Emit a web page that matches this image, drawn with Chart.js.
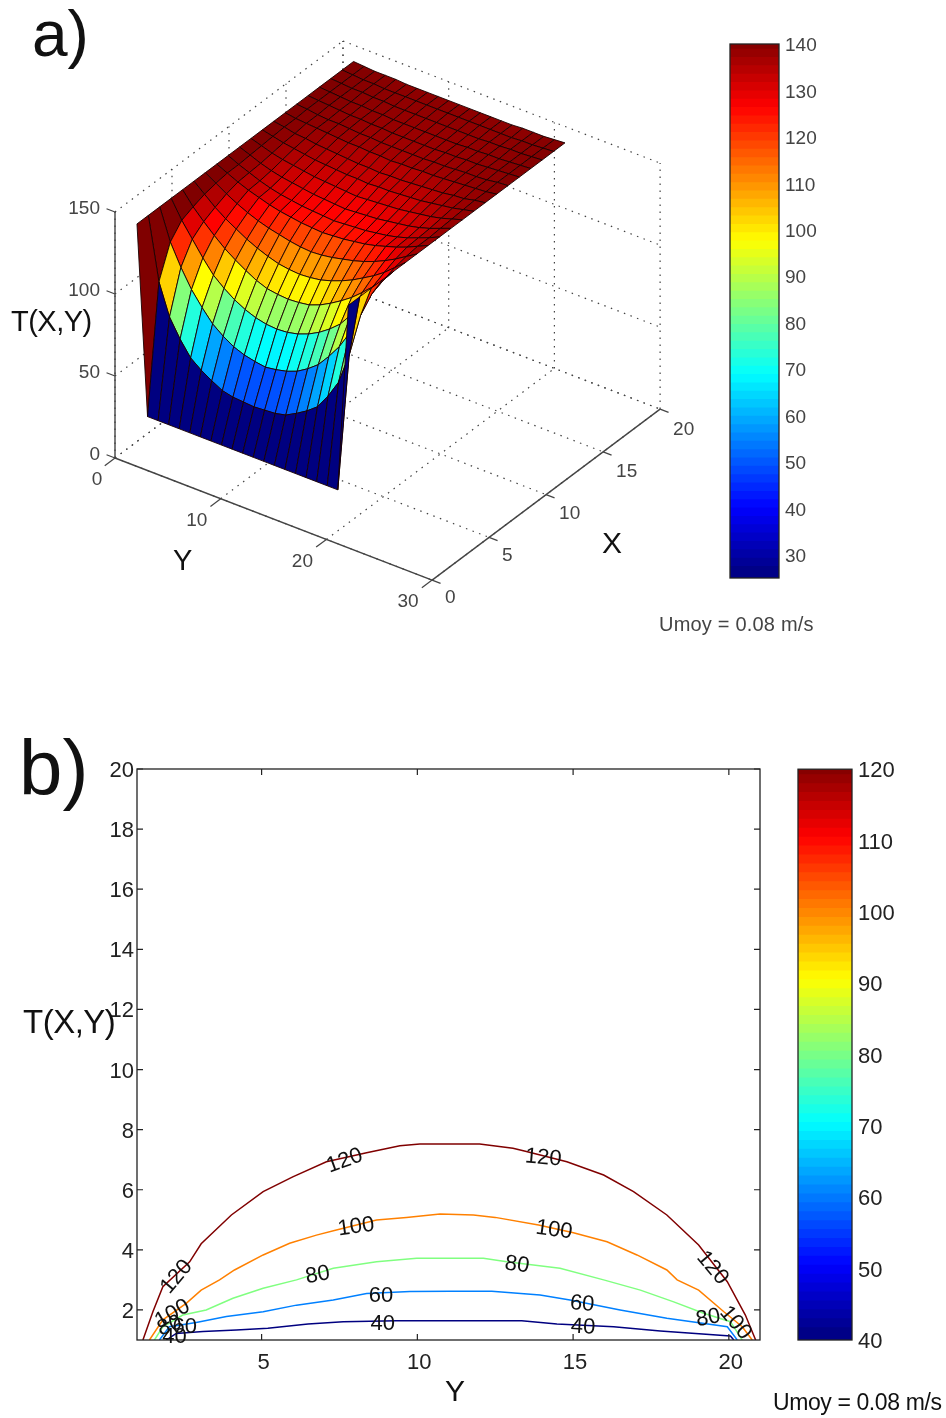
<!DOCTYPE html>
<html>
<head>
<meta charset="utf-8">
<script src="https://cdn.jsdelivr.net/npm/chart.js@4/dist/chart.umd.min.js"></script>
<style>
    html, body { margin: 0; padding: 0; background: #fff; }
    #page { position: relative; width: 946px; height: 1418px; overflow: hidden; font-family: "Liberation Sans", Arial, sans-serif; }
    canvas { position: absolute; filter: blur(0.55px); }
    .txt { position: absolute; white-space: nowrap; line-height: 1; color: #111; filter: blur(0.4px); }
</style>
</head>
<body>
<div id="page">
    <canvas id="surfaceChart" width="946" height="680" style="left:0;top:0"></canvas>
    <canvas id="barTopChart" width="180" height="590" style="left:700px;top:20px"></canvas>
    <canvas id="contourChart" width="946" height="678" style="left:0;top:740px"></canvas>
    <canvas id="barBottomChart" width="148" height="610" style="left:778px;top:750px"></canvas>

    <div class="txt" style="left:32px;top:2px;font-size:64px">a)</div>
    <div class="txt" style="left:11px;top:307px;font-size:29px;letter-spacing:-0.5px">T(X,Y)</div>
    <div class="txt" style="left:173px;top:546px;font-size:29px">Y</div>
    <div class="txt" style="left:602px;top:528px;font-size:30px">X</div>
    <div class="txt" style="left:659px;top:614px;font-size:20px;letter-spacing:0.2px;color:#444">Umoy = 0.08 m/s</div>

    <div class="txt" style="left:19px;top:729px;font-size:78px">b)</div>
    <div class="txt" style="left:23px;top:1005px;font-size:33px;letter-spacing:-0.5px">T(X,Y)</div>
    <div class="txt" style="left:445px;top:1376px;font-size:30px">Y</div>
    <div class="txt" style="left:773px;top:1391px;font-size:23px;letter-spacing:-0.4px">Umoy = 0.08 m/s</div>
</div>

<script>
// surface a) : one row per X (1..20), one value per Y (1..21)
let tempX01 = [140, 25, 25, 25, 25, 25, 25, 25, 25, 25, 25, 25, 25, 25, 25, 25, 25, 25, 25, 25, 140];
let tempX02 = [140, 102, 83, 72, 63, 58, 54, 50.5, 49, 48.5, 48, 48.5, 49, 50.5, 54, 58, 63, 72, 83, 102, 140];
let tempX03 = [140, 121, 108, 97, 88.5, 81, 76, 72, 69.5, 68, 67, 68, 69.5, 72, 76, 81, 88.5, 97, 108, 121, 140];
let tempX04 = [140, 129, 120, 111, 103, 97.5, 93, 89.5, 87, 85.5, 85, 85.5, 87, 89.5, 93, 97.5, 103, 111, 120, 129, 140];
let tempX05 = [140, 132, 125.5, 119.5, 114, 109.5, 105.5, 102, 99.5, 98.5, 98, 98.5, 99.5, 102, 105.5, 109.5, 114, 119.5, 125.5, 132, 140];
let tempX06 = [140, 134.5, 129, 124.5, 120.7, 117, 114, 111.5, 109.5, 108.5, 108, 108.5, 109.5, 111.5, 114, 117, 120.7, 124.5, 129, 134.5, 140];
let tempX07 = [140, 136, 132, 128.5, 125.5, 123, 121, 119.5, 118, 117, 116.5, 117, 118, 119.5, 121, 123, 125.5, 128.5, 132, 136, 140];
let tempX08 = [140, 137, 134, 131.5, 129.5, 127.5, 126, 125, 124, 123.5, 123, 123.5, 124, 125, 126, 127.5, 129.5, 131.5, 134, 137, 140];
let tempX09 = [140, 137, 134.5, 132, 130, 128.5, 127.5, 126.5, 126, 125.5, 125, 125.5, 126, 126.5, 127.5, 128.5, 130, 132, 134.5, 137, 140];
let tempX10 = [140, 137.5, 135, 133, 131.5, 130.5, 129.5, 128.5, 128, 127.5, 127, 127.5, 128, 128.5, 129.5, 130.5, 131.5, 133, 135, 137.5, 140];
let tempX11 = [140, 138, 136, 134.5, 133.5, 132.5, 131.5, 131, 130.5, 130, 129.5, 130, 130.5, 131, 131.5, 132.5, 133.5, 134.5, 136, 138, 140];
let tempX12 = [140, 138.5, 137, 136, 135, 134, 133.5, 133, 132.5, 132.5, 132, 132.5, 132.5, 133, 133.5, 134, 135, 136, 137, 138.5, 140];
let tempX13 = [140, 139, 137.5, 137, 136, 135.5, 135, 134.5, 134, 134, 133.5, 134, 134, 134.5, 135, 135.5, 136, 137, 137.5, 139, 140];
let tempX14 = [140, 139, 138.5, 138, 137.5, 137, 136.5, 136.5, 136, 136, 135.5, 136, 136, 136.5, 136.5, 137, 137.5, 138, 138.5, 139, 140];
let tempX15 = [140, 139.5, 138.5, 138, 138, 137.5, 137, 137, 136.5, 136.5, 136.5, 136.5, 136.5, 137, 137, 137.5, 138, 138, 138.5, 139.5, 140];
let tempX16 = [140, 139.5, 139, 138.5, 138, 138, 137.5, 137.5, 137, 137, 137, 137, 137, 137.5, 137.5, 138, 138, 138.5, 139, 139.5, 140];
let tempX17 = [140, 139.5, 139, 138.5, 138.5, 138, 138, 137.5, 137.5, 137.5, 137.5, 137.5, 137.5, 137.5, 138, 138, 138.5, 138.5, 139, 139.5, 140];
let tempX18 = [140, 139.5, 139, 139, 138.5, 138.5, 138, 138, 138, 138, 138, 138, 138, 138, 138, 138.5, 138.5, 139, 139, 139.5, 140];
let tempX19 = [140, 139.5, 139, 139, 138.5, 138.5, 138.5, 138.5, 138.5, 138.5, 138.5, 138.5, 138.5, 138.5, 138.5, 138.5, 138.5, 139, 139, 139.5, 140];
let tempX20 = [140, 139.5, 139, 139, 139, 138.5, 138.5, 138.5, 138.5, 138.5, 138.5, 138.5, 138.5, 138.5, 138.5, 138.5, 139, 139, 139, 139.5, 140];
let tempRows = [tempX01, tempX02, tempX03, tempX04, tempX05, tempX06, tempX07, tempX08, tempX09, tempX10,
    tempX11, tempX12, tempX13, tempX14, tempX15, tempX16, tempX17, tempX18, tempX19, tempX20];

let surfaceYTicks = [0, 10, 20, 30];
let surfaceXTicks = [0, 5, 10, 15, 20];
let surfaceTTicks = [0, 50, 100, 150];
let barTopTicks = [30, 40, 50, 60, 70, 80, 90, 100, 110, 120, 130, 140];
let barBottomTicks = [40, 50, 60, 70, 80, 90, 100, 110, 120];

// contours b) : Y and X of each level
let level120Y = [1.19, 1.51, 1.83, 2.69, 3.06, 4.03, 5.05, 6.0, 7.08, 8.37, 9.44, 10.08, 11.05, 12.0, 13.07, 13.5, 14.8, 15.98, 16.94, 18.01, 19.03, 19.95, 20.53, 20.86];
let level120X = [1, 1.94, 2.77, 3.6, 4.2, 5.16, 5.94, 6.43, 6.93, 7.23, 7.46, 7.52, 7.52, 7.52, 7.38, 7.27, 6.93, 6.49, 5.94, 5.16, 4.16, 2.94, 1.83, 1];
let level100Y = [1.4, 1.83, 2.58, 3.06, 3.65, 4.13, 5.05, 5.9, 6.76, 7.4, 8.69, 9.65, 10.73, 11.8, 12.5, 13.89, 15.01, 16.09, 17.05, 18.01, 18.34, 19.03, 19.84, 20.43, 20.75];
let level100X = [1, 1.67, 2.22, 2.66, 3.0, 3.33, 3.83, 4.22, 4.49, 4.66, 4.99, 5.08, 5.19, 5.16, 5.08, 4.83, 4.57, 4.27, 3.83, 3.33, 3.0, 2.66, 1.94, 1.44, 1];
let level80Y = [1.56, 1.83, 2.47, 3.22, 4.08, 5.05, 6.12, 7.3, 8.69, 9.98, 10.7, 12.12, 12.87, 14.58, 15.98, 17.16, 18.23, 19.19, 20.05, 20.43];
let level80X = [1, 1.44, 1.83, 2.0, 2.39, 2.72, 3.0, 3.39, 3.6, 3.72, 3.72, 3.72, 3.6, 3.39, 3.0, 2.66, 2.27, 1.89, 1.61, 1];
let level60Y = [1.72, 2.04, 2.9, 3.87, 5.05, 6.12, 7.3, 8.37, 9.76, 11.05, 12.39, 13.94, 14.9, 16.51, 18.01, 19.95, 20.27];
let level60X = [1, 1.44, 1.58, 1.78, 1.94, 2.16, 2.33, 2.55, 2.61, 2.62, 2.62, 2.5, 2.33, 2.0, 1.72, 1.44, 1];
let level40Y = [1.94, 2.26, 3.12, 4.19, 5.2, 6.49, 7.62, 9.33, 11.05, 13.35, 14.48, 16.3, 17.8, 20.05, 20.16];
let level40X = [1, 1.22, 1.28, 1.33, 1.39, 1.53, 1.61, 1.64, 1.64, 1.64, 1.53, 1.44, 1.3, 1.13, 1];
let contourLevels = [120, 100, 80, 60, 40];
let contourYs = [level120Y, level100Y, level80Y, level60Y, level40Y];
let contourXs = [level120X, level100X, level80X, level60X, level40X];

let contourLabelText = [120, 120, 120, 120, 100, 100, 100, 100, 80, 80, 80, 80, 60, 60, 60, 40, 40, 40];
let contourLabelY = [7.67, 14.04, 2.27, 19.47, 8.03, 14.39, 2.14, 20.21, 6.8, 13.2, 19.34, 2.05, 8.83, 15.29, 2.53, 8.89, 15.32, 2.2];
let contourLabelX = [6.96, 7.06, 3.1, 3.4, 4.76, 4.66, 1.87, 1.57, 3.16, 3.5, 1.73, 1.47, 2.46, 2.2, 1.43, 1.53, 1.43, 1.1];
let contourLabelAngle = [-20, 5, -50, 50, -8, 8, -30, 50, -10, 8, -10, -20, 0, 5, 0, 0, 3, 0];

let contourXTicks = [5, 10, 15, 20];
let contourYTicks = [2, 4, 6, 8, 10, 12, 14, 16, 18, 20];

function clamp01(v) {
    return Math.max(0, Math.min(1, v));
}

function jet(t) {
    let r = clamp01(Math.min(4 * t - 1.5, -4 * t + 4.5));
    let g = clamp01(Math.min(4 * t - 0.5, -4 * t + 3.5));
    let b = clamp01(Math.min(4 * t + 0.5, -4 * t + 2.5));
    return `rgb(${Math.round(r * 255)}, ${Math.round(g * 255)}, ${Math.round(b * 255)})`;
}

// fixed view of the 3d box, same as the axes in the picture
function project(y, x, t) {
    return {
        x: 115 + 10.57 * y + 11.4 * x,
        y: 458 + 4.07 * y - 8.55 * x - 1.64 * t,
    };
}

function lineDataset(points, color, width, dash) {
    return {
        data: points,
        showLine: true,
        borderColor: color,
        borderWidth: width,
        borderDash: dash || [],
        pointRadius: 0,
        tension: 0,
        fill: false,
    };
}

function buildSurfaceDatasets() {
    let datasets = [];
    // first dataset is painted last, so nearest cells go first
    for (let j = 0; j < tempRows.length - 1; j++) {
        for (let i = tempRows[j].length - 2; i >= 0; i--) {
            let yv = i + 1, xv = j + 1;
            datasets.push({
                data: [
                    project(yv, xv, tempRows[j][i]),
                    project(yv + 1, xv, tempRows[j][i + 1]),
                    project(yv + 1, xv + 1, tempRows[j + 1][i + 1]),
                    project(yv, xv + 1, tempRows[j + 1][i]),
                    project(yv, xv, tempRows[j][i]),
                ],
                showLine: true,
                borderColor: '#1a0000',
                borderWidth: 0.9,
                backgroundColor: jet(clamp01((tempRows[j][i] - 25) / 115)),
                fill: 'shape',
                pointRadius: 0,
                tension: 0,
            });
        }
    }
    return datasets;
}

function buildBoxDatasets() {
    let datasets = [];
    let axisColor = '#444';
    let dots = [1.5, 5.5];
    let yMax = surfaceYTicks[surfaceYTicks.length - 1];
    let xMax = surfaceXTicks[surfaceXTicks.length - 1];
    let tMax = surfaceTTicks[surfaceTTicks.length - 1];

    datasets.push(lineDataset([project(0, 0, 0), project(yMax, 0, 0)], axisColor, 1.4));
    datasets.push(lineDataset([project(yMax, 0, 0), project(yMax, xMax, 0)], axisColor, 1.4));
    datasets.push(lineDataset([project(0, 0, 0), project(0, 0, tMax)], axisColor, 1.4));

    surfaceYTicks.forEach(v => {
        datasets.push(lineDataset([project(v, 0, 0), project(v, -0.9, 0)], axisColor, 1.2));
        datasets.push(lineDataset([project(v, 0, 0), project(v, xMax, 0)], axisColor, 1.2, dots));
        datasets.push(lineDataset([project(v, xMax, 0), project(v, xMax, tMax)], axisColor, 1.2, dots));
    });
    surfaceXTicks.forEach(v => {
        datasets.push(lineDataset([project(yMax, v, 0), project(yMax + 0.8, v, 0)], axisColor, 1.2));
        datasets.push(lineDataset([project(0, v, 0), project(yMax, v, 0)], axisColor, 1.2, dots));
        datasets.push(lineDataset([project(0, v, 0), project(0, v, tMax)], axisColor, 1.2, dots));
    });
    surfaceTTicks.forEach(v => {
        datasets.push(lineDataset([project(0, 0, v), project(-0.8, 0, v)], axisColor, 1.2));
        datasets.push(lineDataset([project(0, 0, v), project(0, xMax, v)], axisColor, 1.2, dots));
        datasets.push(lineDataset([project(0, xMax, v), project(yMax, xMax, v)], axisColor, 1.2, dots));
    });
    return datasets;
}

function drawLabel(ctx, text, x, y, font, align, color) {
    ctx.save();
    ctx.font = font;
    ctx.fillStyle = color;
    ctx.textAlign = align;
    ctx.textBaseline = 'middle';
    ctx.fillText(String(text), x, y);
    ctx.restore();
}

let surfaceTickLabels = {
    id: 'surfaceTickLabels',
    afterDraw(chart) {
        let ctx = chart.ctx;
        let font = '19px "Liberation Sans"';
        let color = '#444';
        let sx = chart.scales.x, sy = chart.scales.y;
        surfaceYTicks.forEach(v => {
            let p = project(v, 0, 0);
            let dx = v === 0 ? -18 : -24;
            drawLabel(ctx, v, sx.getPixelForValue(p.x) + dx, sy.getPixelForValue(p.y) + 22, font, 'center', color);
        });
        surfaceXTicks.forEach(v => {
            let p = project(30, v, 0);
            drawLabel(ctx, v, sx.getPixelForValue(p.x) + 13, sy.getPixelForValue(p.y) + 18 + v * 0.15, font, 'left', color);
        });
        surfaceTTicks.forEach(v => {
            let p = project(0, 0, v);
            drawLabel(ctx, v, sx.getPixelForValue(p.x) - 15, sy.getPixelForValue(p.y) - 3, font, 'right', color);
        });
    },
};

new Chart(document.getElementById('surfaceChart'), {
    type: 'scatter',
    data: { datasets: buildSurfaceDatasets().concat(buildBoxDatasets()) },
    options: {
        responsive: false,
        animation: false,
        events: [],
        plugins: { legend: { display: false }, tooltip: { enabled: false } },
        scales: {
            x: { display: false, min: 0, max: 946 },
            y: { display: false, min: 0, max: 680, reverse: true },
        },
    },
    plugins: [surfaceTickLabels],
});

function buildBarDatasets(low, high) {
    let datasets = [];
    let steps = 64;
    let band = (high - low) / steps;
    for (let k = 0; k < steps; k++) {
        // a little overlap so no seam shows between bands
        datasets.push({
            data: [[low + band * k, low + band * (k + 1.4)]],
            backgroundColor: jet((k + 0.5) / steps),
            borderWidth: 0,
            barPercentage: 1,
            categoryPercentage: 1,
        });
    }
    return datasets;
}

let boxOutline = {
    id: 'boxOutline',
    afterDraw(chart) {
        let a = chart.chartArea;
        let ctx = chart.ctx;
        ctx.save();
        ctx.strokeStyle = '#222';
        ctx.lineWidth = 1.3;
        ctx.strokeRect(a.left, a.top, a.right - a.left, a.bottom - a.top);
        ctx.restore();
    },
};

function colorBar(id, low, high, tickValues, padding, axisWidth, fontSize, color) {
    new Chart(document.getElementById(id), {
        type: 'bar',
        data: { labels: [''], datasets: buildBarDatasets(low, high) },
        options: {
            responsive: false,
            animation: false,
            events: [],
            layout: { padding: padding, autoPadding: false },
            plugins: { legend: { display: false }, tooltip: { enabled: false } },
            scales: {
                x: { display: false, stacked: true },
                y: {
                    position: 'right',
                    min: low,
                    max: high,
                    stacked: false,
                    grid: { display: false, drawTicks: false },
                    border: { display: false },
                    afterBuildTicks(scale) { scale.ticks = tickValues.map(v => ({ value: v })); },
                    afterFit(scale) { scale.width = axisWidth; },
                    ticks: {
                        padding: 6,
                        autoSkip: false,
                        labelOffset: 2,
                        color: color,
                        font: { family: 'Liberation Sans', size: fontSize },
                    },
                },
            },
        },
        plugins: [boxOutline],
    });
}

colorBar('barTopChart', 25, 140, barTopTicks, { left: 30, top: 24, bottom: 32, right: 0 }, 101, 19, '#444');
colorBar('barBottomChart', 40, 120, barBottomTicks, { left: 20, top: 19, bottom: 20, right: 0 }, 74, 22, '#222');

let boxTicks = {
    id: 'boxTicks',
    afterDraw(chart) {
        let ctx = chart.ctx;
        let a = chart.chartArea;
        let len = 6;
        ctx.save();
        ctx.strokeStyle = '#222';
        ctx.lineWidth = 1.2;
        ctx.beginPath();
        contourXTicks.forEach(v => {
            let px = chart.scales.x.getPixelForValue(v);
            ctx.moveTo(px, a.bottom);
            ctx.lineTo(px, a.bottom - len);
            ctx.moveTo(px, a.top);
            ctx.lineTo(px, a.top + len);
        });
        contourYTicks.forEach(v => {
            let py = chart.scales.y.getPixelForValue(v);
            ctx.moveTo(a.left, py);
            ctx.lineTo(a.left + len, py);
            ctx.moveTo(a.right, py);
            ctx.lineTo(a.right - len, py);
        });
        ctx.stroke();
        ctx.restore();

        contourLabelText.forEach((text, k) => {
            ctx.save();
            ctx.translate(chart.scales.x.getPixelForValue(contourLabelY[k]), chart.scales.y.getPixelForValue(contourLabelX[k]));
            ctx.rotate(contourLabelAngle[k] * Math.PI / 180);
            drawLabel(ctx, text, 0, 0, '22px "Liberation Sans"', 'center', '#111');
            ctx.restore();
        });
    },
};

new Chart(document.getElementById('contourChart'), {
    type: 'scatter',
    data: {
        datasets: contourLevels.map((level, k) => lineDataset(
            contourYs[k].map((v, n) => ({ x: v, y: contourXs[k][n] })),
            jet((level - 40) / 80),
            1.5
        )),
    },
    options: {
        responsive: false,
        animation: false,
        events: [],
        layout: { padding: { left: 0, top: 29, right: 186, bottom: 0 }, autoPadding: false },
        plugins: { legend: { display: false }, tooltip: { enabled: false } },
        scales: {
            x: {
                min: 1,
                max: 21,
                grid: { display: false, drawTicks: false },
                border: { display: false },
                afterBuildTicks(scale) { scale.ticks = contourXTicks.map(v => ({ value: v })); },
                afterFit(scale) { scale.height = 78; },
                ticks: { padding: 10, labelOffset: 2, autoSkip: false, maxRotation: 0, color: '#222', font: { family: 'Liberation Sans', size: 22 } },
            },
            y: {
                min: 1,
                max: 20,
                grid: { display: false, drawTicks: false },
                border: { display: false },
                afterBuildTicks(scale) { scale.ticks = contourYTicks.map(v => ({ value: v })); },
                afterFit(scale) { scale.width = 137; },
                ticks: { padding: 3, labelOffset: 2, autoSkip: false, color: '#222', font: { family: 'Liberation Sans', size: 22 } },
            },
        },
    },
    plugins: [boxOutline, boxTicks],
});
</script>
</body>
</html>
